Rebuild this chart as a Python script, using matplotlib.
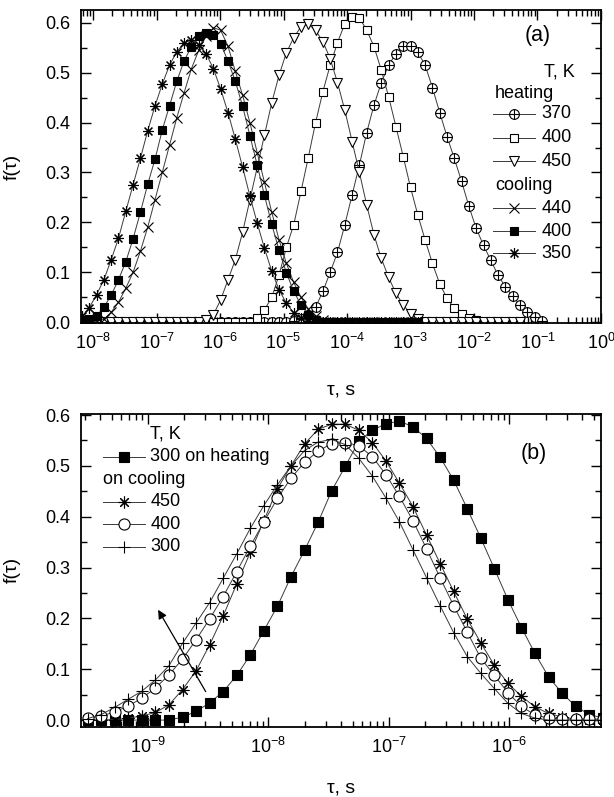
import numpy as np
import matplotlib
matplotlib.use("Agg")
import matplotlib.pyplot as plt
from matplotlib.path import Path
from matplotlib.lines import Line2D
from matplotlib.ticker import (FixedLocator, MultipleLocator, FormatStrFormatter,
                               NullFormatter, LogFormatterSciNotation)

plt.rcParams['font.family'] = ['Liberation Sans', 'DejaVu Sans']
plt.rcParams['mathtext.fontset'] = 'custom'
plt.rcParams['mathtext.rm'] = 'Liberation Sans'
plt.rcParams['mathtext.it'] = 'Liberation Sans:italic'
plt.rcParams['mathtext.bf'] = 'Liberation Sans:bold'

# ---------------- panel (a) data ----------------
LOGTAU_A = [-8.175, -8.060, -7.945, -7.830, -7.715, -7.600, -7.485, -7.370, -7.255, -7.140,
            -7.025, -6.910, -6.795, -6.680, -6.565, -6.450, -6.335, -6.220, -6.105, -5.990,
            -5.875, -5.760, -5.645, -5.530, -5.415, -5.300, -5.185, -5.070, -4.955, -4.840,
            -4.725, -4.610, -4.495, -4.380, -4.265, -4.150, -4.035, -3.920, -3.805, -3.690,
            -3.575, -3.460, -3.345, -3.230, -3.115, -3.000, -2.885, -2.770, -2.655, -2.540,
            -2.425, -2.310, -2.195, -2.080, -1.965, -1.850, -1.735, -1.620, -1.505, -1.390,
            -1.275, -1.160, -1.045, -0.930]

F_HEAT_370 = [0, 0, 0, 0, 0, 0, 0, 0, 0, 0,
              0, 0, 0, 0, 0, 0, 0, 0, 0, 0,
              0, 0, 0, 0, 0, 0, 0, 0, 0, 0.002,
              0.006, 0.015, 0.030, 0.062, 0.100, 0.140, 0.195, 0.255, 0.315, 0.380,
              0.435, 0.480, 0.515, 0.538, 0.553, 0.554, 0.541, 0.515, 0.470, 0.420,
              0.372, 0.328, 0.282, 0.232, 0.188, 0.154, 0.124, 0.094, 0.071, 0.052,
              0.035, 0.021, 0.010, 0.003]

F_HEAT_400 = [0, 0, 0, 0, 0, 0, 0, 0, 0, 0,
              0, 0, 0, 0, 0, 0, 0, 0, 0, 0,
              0, 0, 0, 0, 0.008, 0.025, 0.050, 0.095, 0.150, 0.195,
              0.262, 0.330, 0.400, 0.462, 0.515, 0.560, 0.598, 0.612, 0.610, 0.585,
              0.552, 0.505, 0.452, 0.392, 0.332, 0.270, 0.215, 0.165, 0.118, 0.077,
              0.048, 0.028, 0.016, 0.008, 0.004, 0, 0, 0, 0, 0,
              0]

F_HEAT_450 = [0, 0, 0, 0, 0, 0, 0, 0, 0, 0,
              0, 0, 0, 0, 0, 0, 0, 0.005, 0.015, 0.045,
              0.085, 0.125, 0.180, 0.245, 0.310, 0.375, 0.440, 0.495, 0.540, 0.570,
              0.592, 0.597, 0.585, 0.562, 0.528, 0.480, 0.425, 0.362, 0.300, 0.235,
              0.175, 0.128, 0.090, 0.058, 0.035, 0.017, 0.006, 0, 0, 0,
              0, 0, 0, 0, 0, 0, 0, 0, 0, 0,
              0]

F_COOL_440 = [0, 0, 0.002, 0.006, 0.020, 0.040, 0.068, 0.100, 0.142, 0.190,
              0.245, 0.300, 0.355, 0.410, 0.460, 0.508, 0.545, 0.573, 0.590, 0.585,
              0.553, 0.503, 0.455, 0.400, 0.340, 0.280, 0.220, 0.165, 0.118, 0.080,
              0.050, 0.027, 0.012, 0.004, 0, 0, 0, 0, 0, 0,
              0, 0, 0, 0, 0, 0, 0]

F_COOL_400 = [0.003, 0.006, 0.013, 0.030, 0.054, 0.085, 0.121, 0.167, 0.220, 0.276,
              0.326, 0.385, 0.434, 0.483, 0.524, 0.552, 0.573, 0.580, 0.575, 0.558,
              0.523, 0.483, 0.433, 0.374, 0.315, 0.254, 0.196, 0.144, 0.099, 0.062,
              0.035, 0.015, 0.005, 0, 0, 0, 0, 0, 0, 0,
              0, 0, 0, 0, 0, 0, 0]

F_COOL_350 = [0.012, 0.029, 0.055, 0.085, 0.125, 0.168, 0.222, 0.275, 0.328, 0.383,
              0.433, 0.477, 0.515, 0.542, 0.559, 0.566, 0.556, 0.538, 0.508, 0.467,
              0.420, 0.367, 0.311, 0.253, 0.199, 0.148, 0.102, 0.065, 0.038, 0.019,
              0.008, 0.003, 0, 0, 0, 0, 0, 0, 0, 0,
              0, 0, 0, 0, 0, 0, 0]

XTICKS_A = [1e-8, 1e-7, 1e-6, 1e-5, 1e-4, 1e-3, 1e-2, 1e-1, 1e0]

# ---------------- panel (b) data ----------------
LOGTAU_B = [-9.5000, -9.3875, -9.2750, -9.1625, -9.0500, -8.9375, -8.8250, -8.7125, -8.6000, -8.4875,
            -8.3750, -8.2625, -8.1500, -8.0375, -7.9250, -7.8125, -7.7000, -7.5875, -7.4750, -7.3625,
            -7.2500, -7.1375, -7.0250, -6.9125, -6.8000, -6.6875, -6.5750, -6.4625, -6.3500, -6.2375,
            -6.1250, -6.0125, -5.9000, -5.7875, -5.6750, -5.5625, -5.4500, -5.3375, -5.2250]

F_B_HEAT_300 = [0, 0, 0, 0, 0, 0, 0, 0.006, 0.017, 0.034,
                0.056, 0.088, 0.128, 0.176, 0.224, 0.282, 0.334, 0.389, 0.451, 0.499,
                0.548, 0.570, 0.583, 0.588, 0.577, 0.554, 0.517, 0.472, 0.416, 0.358,
                0.298, 0.237, 0.182, 0.131, 0.085, 0.053, 0.027, 0.011, 0.004]

F_B_COOL_450 = [0, 0, 0.001, 0.004, 0.008, 0.015, 0.030, 0.060, 0.097, 0.148,
                0.205, 0.268, 0.330, 0.392, 0.455, 0.500, 0.543, 0.572, 0.582, 0.582,
                0.570, 0.546, 0.510, 0.466, 0.420, 0.364, 0.308, 0.253, 0.199, 0.152,
                0.108, 0.072, 0.047, 0.026, 0.013, 0.006, 0.002, 0, 0]

F_B_COOL_400 = [0.004, 0.008, 0.016, 0.028, 0.043, 0.063, 0.089, 0.120, 0.158, 0.199,
                0.243, 0.292, 0.342, 0.390, 0.436, 0.476, 0.507, 0.529, 0.544, 0.546,
                0.540, 0.518, 0.483, 0.440, 0.392, 0.337, 0.280, 0.225, 0.173, 0.122,
                0.088, 0.054, 0.027, 0.010, 0.004, 0.002, 0.002, 0.002, 0.002]

F_B_COOL_300 = [0.003, 0.011, 0.025, 0.041, 0.057, 0.079, 0.107, 0.151, 0.191, 0.231,
                0.279, 0.327, 0.377, 0.422, 0.463, 0.500, 0.530, 0.547, 0.552, 0.542,
                0.515, 0.480, 0.437, 0.390, 0.335, 0.280, 0.225, 0.172, 0.125, 0.092,
                0.062, 0.033, 0.013, 0.004, 0, 0, 0, 0, 0]

XTICKS_B = [1e-9, 1e-8, 1e-7, 1e-6]

ARROW_TAIL = (10 ** -8.52, 0.056)
ARROW_HEAD = (10 ** -8.915, 0.217)

# ---------------- styling ----------------
FS = 13
LINE_C = '#3a3a3a'
OPLUS = Path.make_compound_path(
    Path.unit_circle(),
    Path([(-1, 0), (1, 0)], [Path.MOVETO, Path.LINETO]),
    Path([(0, -1), (0, 1)], [Path.MOVETO, Path.LINETO]))
ASTER = (8, 2, 0)

STYLE_A = {
    'h370': dict(marker=OPLUS, ms=7.0, mfc='white'),
    'h400': dict(marker='s', ms=6.0, mfc='white'),
    'h450': dict(marker='v', ms=7.2, mfc='white'),
    'c440': dict(marker='x', ms=7.0, mfc='none'),
    'c400': dict(marker='s', ms=6.2, mfc='black'),
    'c350': dict(marker=ASTER, ms=7.8, mfc='none'),
}
STYLE_B = {
    'h300': dict(marker='s', ms=6.8, mfc='black'),
    'c450': dict(marker=ASTER, ms=8.5, mfc='none'),
    'c400': dict(marker='o', ms=8.0, mfc='white'),
    'c300': dict(marker='+', ms=9.0, mfc='none'),
}


def minor_positions(lo_exp, hi_exp):
    out = []
    for e in range(lo_exp, hi_exp):
        for m in range(2, 10):
            out.append(m * 10.0 ** e)
    return out


def draw(ax, logtau, f, st):
    x = 10 ** np.asarray(logtau[:len(f)], dtype=float)
    ax.plot(x, f, color=LINE_C, lw=0.7, marker=st['marker'], ms=st['ms'],
            mfc=st['mfc'], mec='black', mew=0.8)


def legend_row(ax, x0, x1, xt, y, st, label):
    ax.add_line(Line2D([x0, x1], [y, y], transform=ax.transAxes, color=LINE_C,
                       lw=0.7, clip_on=False))
    ax.add_line(Line2D([(x0 + x1) / 2], [y], transform=ax.transAxes, ls='none',
                       marker=st['marker'], ms=st['ms'], mfc=st['mfc'], mec='black',
                       mew=0.8, clip_on=False))
    ax.text(xt, y, label, transform=ax.transAxes, ha='left', va='center', fontsize=FS)


def style_axes(ax, xlim, ylim, xticks, minor, xlab_y):
    ax.set_xscale('log')
    ax.xaxis.set_major_locator(FixedLocator(xticks))
    ax.xaxis.set_minor_locator(FixedLocator(minor))
    ax.xaxis.set_major_formatter(LogFormatterSciNotation())
    ax.xaxis.set_minor_formatter(NullFormatter())
    ax.set_xlim(*xlim)
    ax.set_ylim(*ylim)
    ax.yaxis.set_major_locator(MultipleLocator(0.1))
    ax.yaxis.set_minor_locator(MultipleLocator(0.05))
    ax.yaxis.set_major_formatter(FormatStrFormatter('%.1f'))
    ax.tick_params(which='both', direction='in', top=True, right=True, width=1.0)
    ax.tick_params(which='major', length=7, labelsize=FS)
    ax.tick_params(axis='x', which='major', pad=7)
    ax.tick_params(axis='y', which='major', pad=8)
    ax.tick_params(which='minor', length=4)
    for s in ax.spines.values():
        s.set_linewidth(1.3)
    ax.set_ylabel('f(τ)', fontsize=FS + 1)
    ax.yaxis.set_label_coords(-0.115, 0.5)
    ax.set_xlabel('τ, s', fontsize=FS + 1)
    ax.xaxis.set_label_coords(0.5, xlab_y)


fig = plt.figure(figsize=(6.14, 7.97), dpi=100)
ax_a = fig.add_axes([0.1319, 0.5944, 0.8469, 0.3931])
ax_b = fig.add_axes([0.1319, 0.0882, 0.8469, 0.3923])

# ---- panel (a)
draw(ax_a, LOGTAU_A, F_HEAT_370, STYLE_A['h370'])
draw(ax_a, LOGTAU_A, F_HEAT_400, STYLE_A['h400'])
draw(ax_a, LOGTAU_A, F_HEAT_450, STYLE_A['h450'])
draw(ax_a, LOGTAU_A, F_COOL_440, STYLE_A['c440'])
draw(ax_a, LOGTAU_A, F_COOL_400, STYLE_A['c400'])
draw(ax_a, LOGTAU_A, F_COOL_350, STYLE_A['c350'])
style_axes(ax_a, (10 ** -8.19, 1.0), (-0.002, 0.6255), XTICKS_A,
           minor_positions(-9, 0), -0.185)

ax_a.text(0.879, 0.92, '(a)', transform=ax_a.transAxes, ha='center', va='center',
          fontsize=15.5)
ax_a.text(0.95, 0.803, 'T, K', transform=ax_a.transAxes, ha='right', va='center',
          fontsize=FS)
ax_a.text(0.796, 0.734, 'heating', transform=ax_a.transAxes, ha='left', va='center',
          fontsize=FS)
ax_a.text(0.796, 0.441, 'cooling', transform=ax_a.transAxes, ha='left', va='center',
          fontsize=FS)
LA = (0.793, 0.873, 0.886)
legend_row(ax_a, *LA, 0.668, STYLE_A['h370'], '370')
legend_row(ax_a, *LA, 0.592, STYLE_A['h400'], '400')
legend_row(ax_a, *LA, 0.517, STYLE_A['h450'], '450')
legend_row(ax_a, *LA, 0.367, STYLE_A['c440'], '440')
legend_row(ax_a, *LA, 0.294, STYLE_A['c400'], '400')
legend_row(ax_a, *LA, 0.223, STYLE_A['c350'], '350')

# ---- panel (b)
draw(ax_b, LOGTAU_B, F_B_HEAT_300, STYLE_B['h300'])
draw(ax_b, LOGTAU_B, F_B_COOL_450, STYLE_B['c450'])
draw(ax_b, LOGTAU_B, F_B_COOL_400, STYLE_B['c400'])
draw(ax_b, LOGTAU_B, F_B_COOL_300, STYLE_B['c300'])
style_axes(ax_b, (10 ** -9.555, 10 ** -5.24), (-0.013, 0.602), XTICKS_B,
           minor_positions(-10, -5), -0.17)

ax_b.annotate('', xy=ARROW_HEAD, xytext=ARROW_TAIL,
              arrowprops=dict(arrowstyle='-|>', color='black', lw=0.9,
                              mutation_scale=13, shrinkA=0, shrinkB=0))
ax_b.text(0.871, 0.875, '(b)', transform=ax_b.transAxes, ha='center', va='center',
          fontsize=15.5)
ax_b.text(0.133, 0.936, 'T, K', transform=ax_b.transAxes, ha='left', va='center',
          fontsize=FS)
ax_b.text(0.042, 0.792, 'on cooling', transform=ax_b.transAxes, ha='left', va='center',
          fontsize=FS)
LB = (0.043, 0.123, 0.133)
legend_row(ax_b, *LB, 0.864, STYLE_B['h300'], '300 on heating')
legend_row(ax_b, *LB, 0.720, STYLE_B['c450'], '450')
legend_row(ax_b, *LB, 0.647, STYLE_B['c400'], '400')
legend_row(ax_b, *LB, 0.575, STYLE_B['c300'], '300')

fig.savefig('out.png', dpi=100)
